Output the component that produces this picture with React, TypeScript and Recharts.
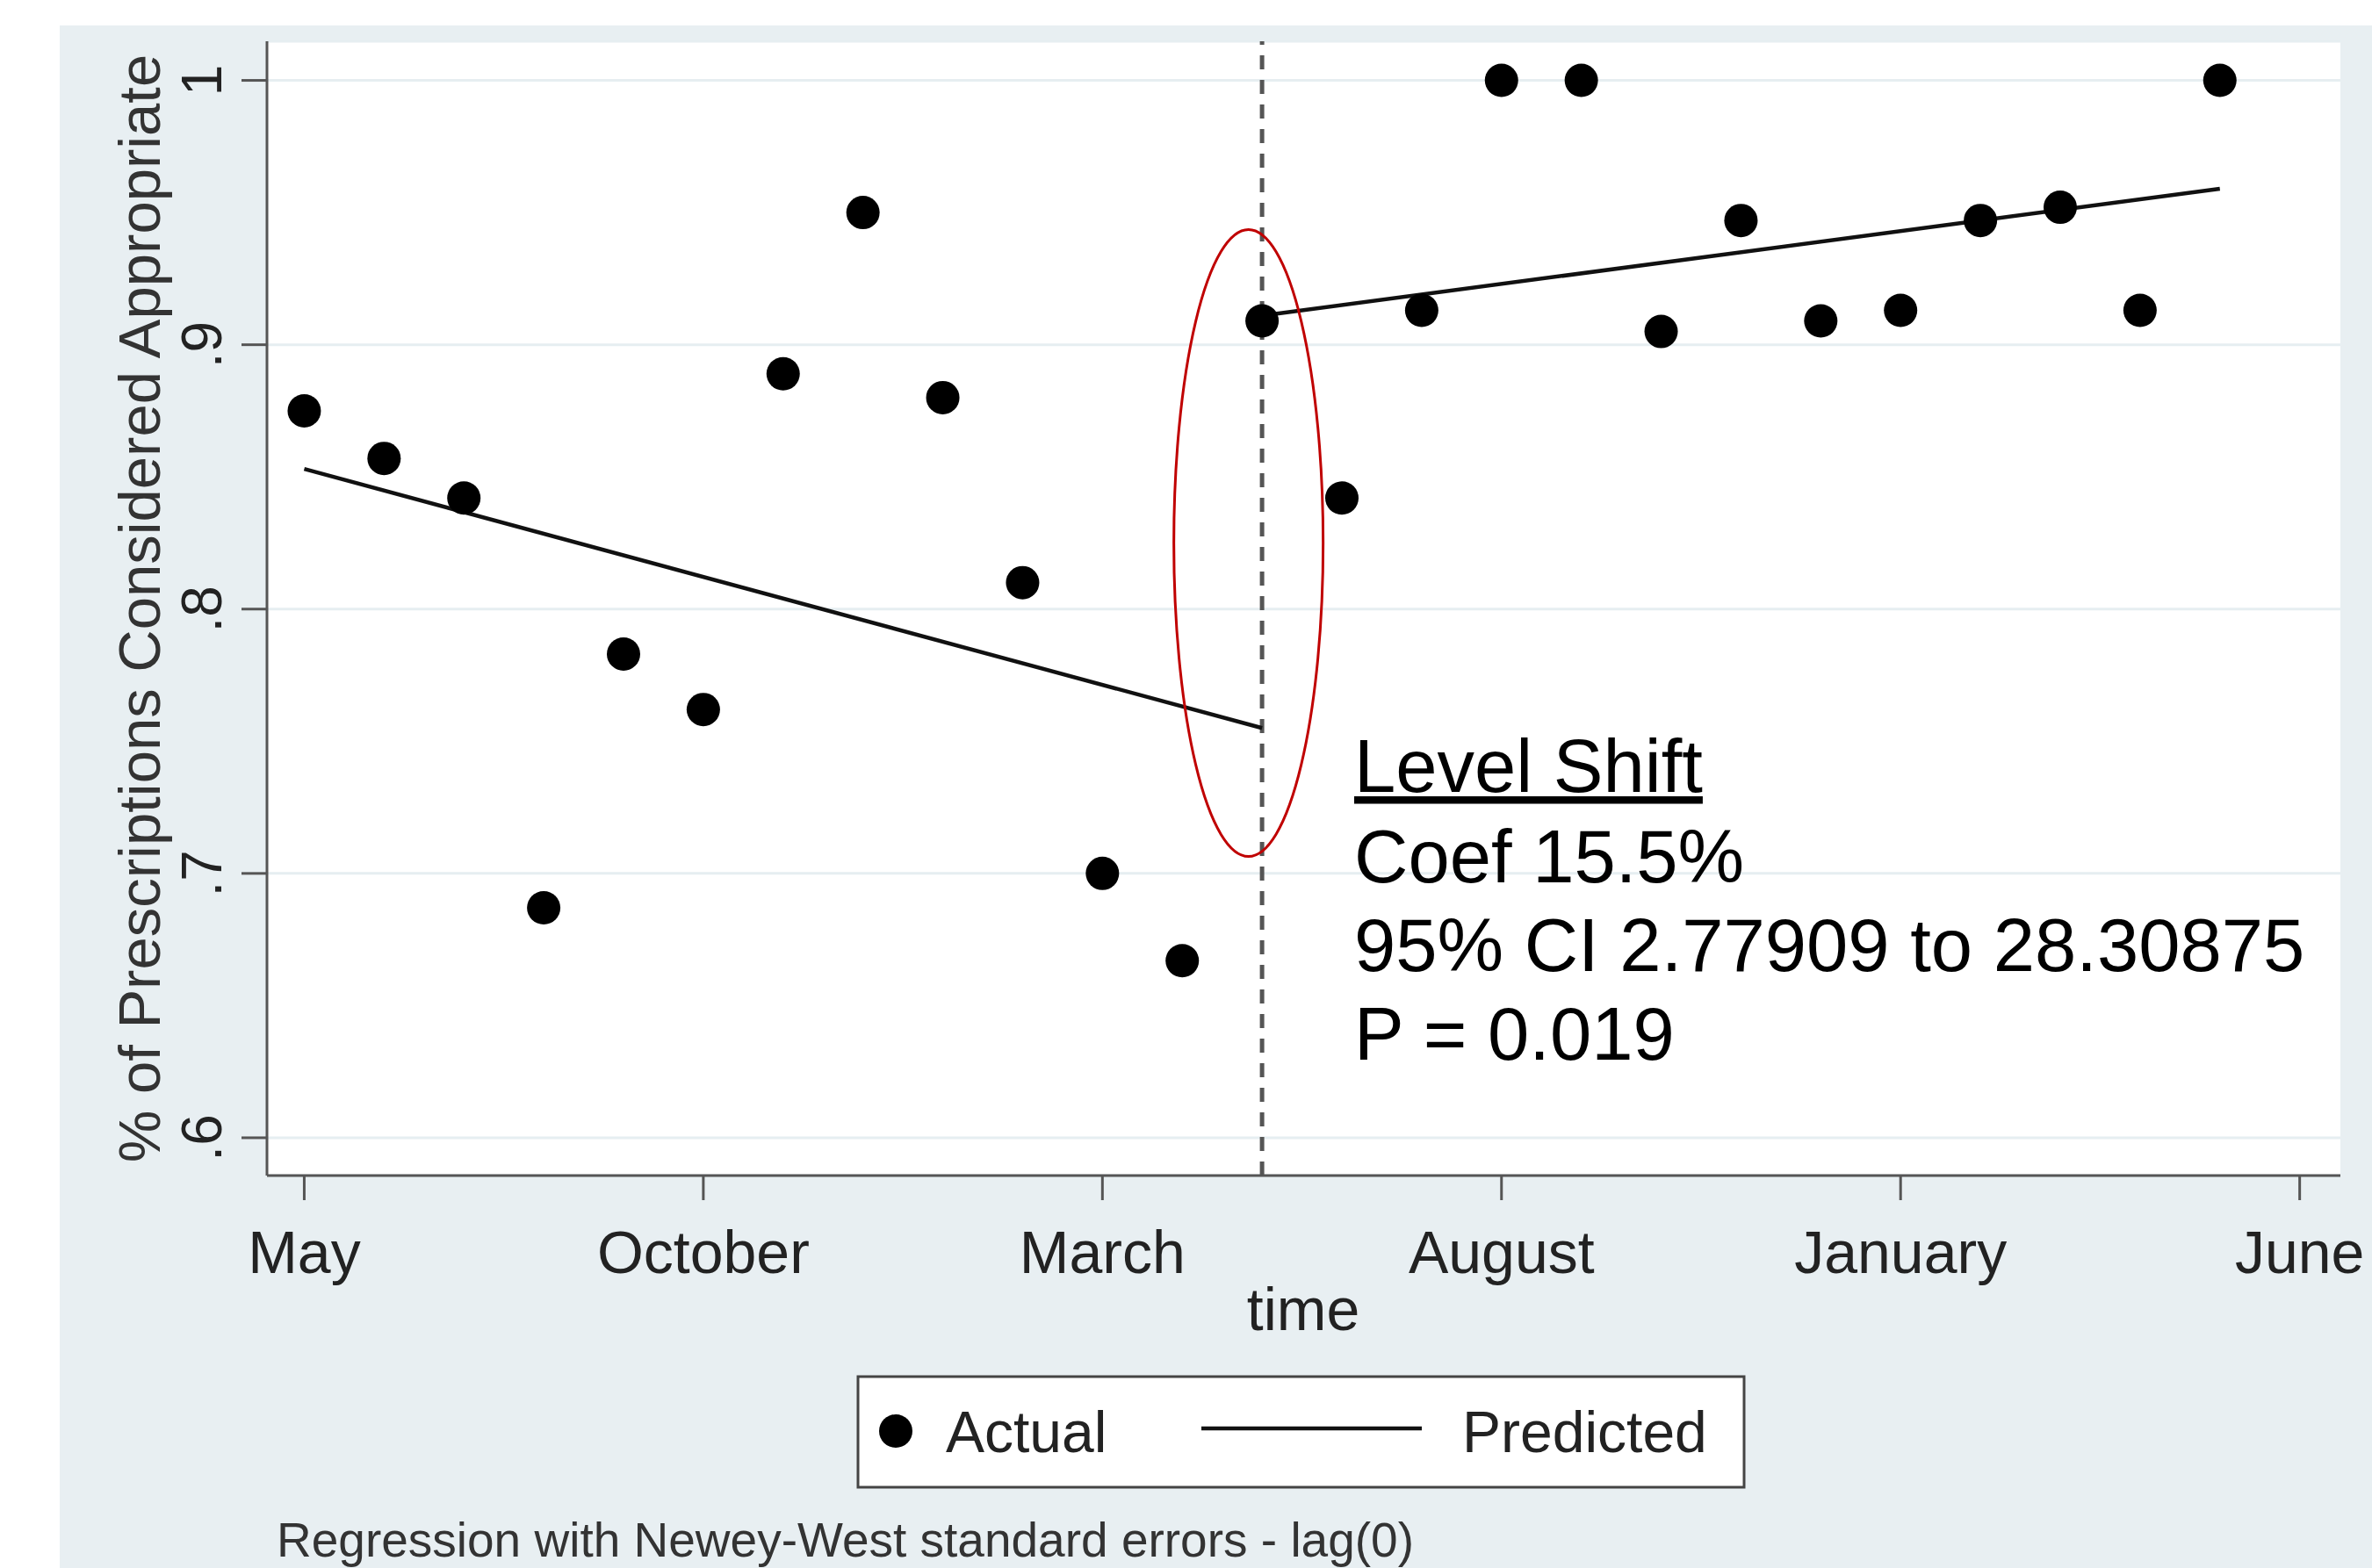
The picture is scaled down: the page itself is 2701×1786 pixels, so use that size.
import { ComposedChart, Scatter, Line, XAxis, YAxis, CartesianGrid, ReferenceLine, ReferenceDot } from "recharts"

const months = [0, 1, 2, 3, 4, 5, 6, 7, 8, 9, 10, 11, 12, 13, 14, 15, 16, 17, 18, 19, 20, 21, 22, 23, 24]
const actual = [
  0.875, 0.857, 0.842, 0.687, 0.783, 0.762, 0.889, 0.95, 0.88, 0.81, 0.7, 0.667,
  0.909, 0.842, 0.913, 1, 1, 0.905, 0.947, 0.909, 0.913, 0.947, 0.952, 0.913, 1,
]
const predictedPre = [
  { month: 0, value: 0.853 },
  { month: 12, value: 0.755 },
]
const predictedPost = [
  { month: 12, value: 0.911 },
  { month: 24, value: 0.959 },
]
const xTicks = [0, 5, 10, 15, 20, 25]
const xTickLabels = ["May", "October", "March", "August", "January", "June"]
const yTicks = [0.6, 0.7, 0.8, 0.9, 1]
const yTickLabels = [".6", ".7", ".8", ".9", "1"]
const interventionMonth = 12
const annotation = ["Coef 15.5%", "95% CI 2.77909 to 28.30875", "P = 0.019"]

const points = months.map((m, i) => ({ month: m, value: actual[i] }))

const FONT = "'Liberation Sans', Arial, sans-serif"
const AXIS = "#555"

function YTick(props: any) {
  const { x, y, payload } = props
  const label = yTickLabels[yTicks.indexOf(payload.value)]
  return (
    <text transform={`translate(${x - 23},${y}) rotate(-90)`} textAnchor="middle" fontSize={64} fontFamily={FONT} fill="#222">
      {label}
    </text>
  )
}

function Dot(props: any) {
  return <circle cx={props.cx} cy={props.cy} r={19} fill="#000" />
}

function Ellipse(props: any) {
  return <ellipse cx={props.cx} cy={props.cy} rx={85} ry={357} fill="none" stroke="#c00000" strokeWidth={3} />
}

export default function App() {
  return (
    <div style={{ position: "absolute", left: 0, top: 0, width: 2701, height: 1786, background: "#fff", overflow: "hidden" }}>
      <div style={{ position: "absolute", left: 68, top: 29, right: 0, bottom: 0, background: "#e8eff2" }} />
      <div style={{ position: "absolute", left: 0, top: 0 }}>
        <ComposedChart width={2701} height={1786} data={points} margin={{ top: 47, right: 36, bottom: 347, left: 154 }}>
          <CartesianGrid horizontal vertical={false} fill="#fff" stroke="#e6eef1" strokeWidth={3} />
          <XAxis
            type="number"
            dataKey="month"
            domain={[-0.467, 25.51]}
            allowDataOverflow
            ticks={xTicks}
            tickFormatter={(v: number) => xTickLabels[xTicks.indexOf(v)]}
            height={100}
            tickSize={28}
            tickMargin={35}
            axisLine={{ stroke: AXIS, strokeWidth: 3 }}
            tickLine={{ stroke: AXIS, strokeWidth: 3 }}
            tick={{ fontSize: 68, fontFamily: FONT, fill: "#222" }}
            interval={0}
          />
          <YAxis
            type="number"
            dataKey="value"
            domain={[0.5857, 1.0148]}
            allowDataOverflow
            ticks={yTicks}
            width={150}
            tickSize={29}
            tickMargin={0}
            axisLine={{ stroke: AXIS, strokeWidth: 3 }}
            tickLine={{ stroke: AXIS, strokeWidth: 3 }}
            tick={<YTick />}
            interval={0}
          />
          <ReferenceLine x={interventionMonth} stroke={AXIS} strokeWidth={5} strokeDasharray="16 12" />
          <Line data={predictedPre} dataKey="value" type="linear" stroke="#111" strokeWidth={4.5} dot={false} isAnimationActive={false} />
          <Line data={predictedPost} dataKey="value" type="linear" stroke="#111" strokeWidth={4.5} dot={false} isAnimationActive={false} />
          <Scatter dataKey="value" shape={<Dot />} isAnimationActive={false} />
          <ReferenceDot x={11.83} y={0.825} shape={<Ellipse />} />
        </ComposedChart>
      </div>
      <svg width={2701} height={1786} style={{ position: "absolute", left: 0, top: 0, pointerEvents: "none" }} fontFamily={FONT}>
        <text transform="translate(182,693) rotate(-90)" textAnchor="middle" fontSize={67} fill="#333">
          % of Prescriptions Considered Appropriate
        </text>
        <text x={1484} y={1515} textAnchor="middle" fontSize={68} fill="#222">time</text>
        <text x={1542} y={902} fontSize={85} fill="#000" textDecoration="underline">Level Shift</text>
        {annotation.map((t, i) => (
          <text key={t} x={1542} y={1005 + i * 101} fontSize={85} fill="#000">{t}</text>
        ))}
        <rect x={977} y={1568} width={1009} height={126} fill="#fff" stroke="#444" strokeWidth={3} />
        <circle cx={1020} cy={1630} r={19} fill="#000" />
        <text x={1077} y={1654} fontSize={66} fill="#222">Actual</text>
        <line x1={1368} x2={1619} y1={1627} y2={1627} stroke="#111" strokeWidth={4.5} />
        <text x={1665} y={1654} fontSize={66} fill="#222">Predicted</text>
        <text x={315} y={1773} fontSize={55} fill="#333">Regression with Newey-West standard errors - lag(0)</text>
      </svg>
    </div>
  )
}
